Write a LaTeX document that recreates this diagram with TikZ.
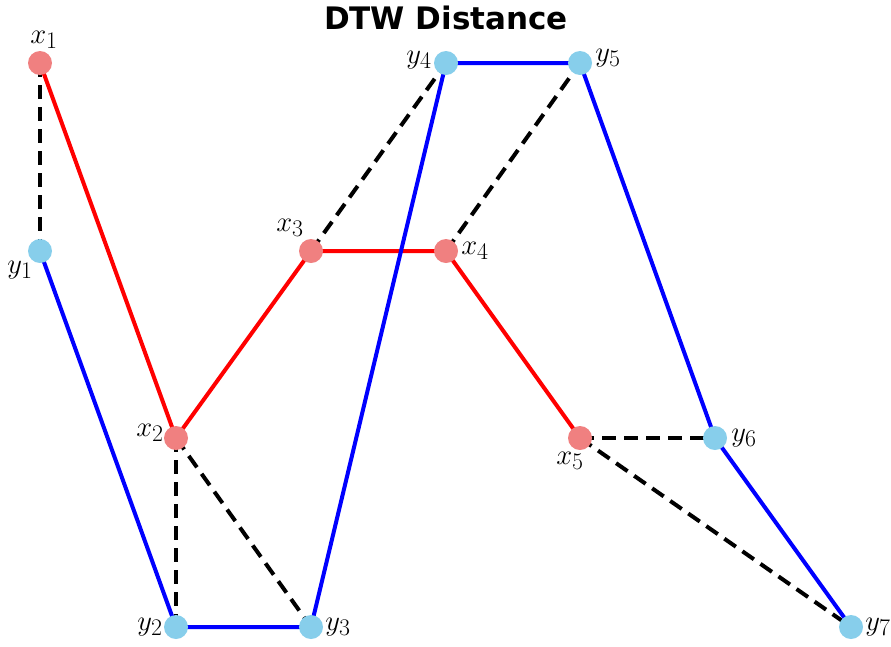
\documentclass[tikz,border=0pt]{standalone}
\usepackage{graphicx}
\usepackage{fontspec}
\newfontfamily\titlefont{DejaVu Sans}
\definecolor{xpt}{RGB}{240,128,128}
\definecolor{ypt}{RGB}{135,206,235}
\newcommand{\ptlab}[1]{\scalebox{1.15}{\fontsize{24.88}{30}\selectfont$#1$}}
\begin{document}
\begin{tikzpicture}[x=1pt,y=-1pt,
  xnode/.style={circle,fill=xpt,minimum size=24pt,inner sep=0pt},
  ynode/.style={circle,fill=ypt,minimum size=24pt,inner sep=0pt},
  lab/.style={inner sep=0pt},
  xline/.style={red,line width=4pt},
  yline/.style={blue,line width=4pt},
  match/.style={black,line width=4pt,dash pattern=on 14pt off 8pt}]
\useasboundingbox (0,0) rectangle (891,646);
\node[font=\titlefont\bfseries\fontsize{31}{36}\selectfont] (title) at (446,18) {DTW Distance};
% coordinates
\coordinate (X1) at (40,63);
\coordinate (X2) at (176,438);
\coordinate (X3) at (311,251);
\coordinate (X4) at (446,251);
\coordinate (X5) at (580,438);
\coordinate (Y1) at (40,251);
\coordinate (Y2) at (176,627);
\coordinate (Y3) at (311,627);
\coordinate (Y4) at (446,63);
\coordinate (Y5) at (580,63);
\coordinate (Y6) at (715,438);
\coordinate (Y7) at (851,627);
% matches
\draw[match] (X1) -- (Y1);
\draw[match] (X2) -- (Y2);
\draw[match] (X2) -- (Y3);
\draw[match] (X3) -- (Y4);
\draw[match] (X4) -- (Y5);
\draw[match] (X5) -- (Y6);
\draw[match] (X5) -- (Y7);
% series
\draw[xline] (X1) -- (X2) -- (X3) -- (X4) -- (X5);
\draw[yline] (Y1) -- (Y2) -- (Y3) -- (Y4) -- (Y5) -- (Y6) -- (Y7);
% points
\foreach \i in {1,...,5} \node[xnode] (x\i) at (X\i) {};
\foreach \i in {1,...,7} \node[ynode] (y\i) at (Y\i) {};
% labels
\node[lab] (lx1) at (44,40) {\ptlab{x_1}};
\node[lab] (lx2) at (150,433) {\ptlab{x_2}};
\node[lab] (lx3) at (290,228) {\ptlab{x_3}};
\node[lab] (lx4) at (475,251) {\ptlab{x_4}};
\node[lab] (lx5) at (570,461) {\ptlab{x_5}};
\node[lab] (ly1) at (20,270) {\ptlab{y_1}};
\node[lab] (ly2) at (150,627) {\ptlab{y_2}};
\node[lab] (ly3) at (338,627) {\ptlab{y_3}};
\node[lab] (ly4) at (419,60) {\ptlab{y_4}};
\node[lab] (ly5) at (608,58) {\ptlab{y_5}};
\node[lab] (ly6) at (744,438) {\ptlab{y_6}};
\node[lab] (ly7) at (878,627) {\ptlab{y_7}};
\end{tikzpicture}
\end{document}
